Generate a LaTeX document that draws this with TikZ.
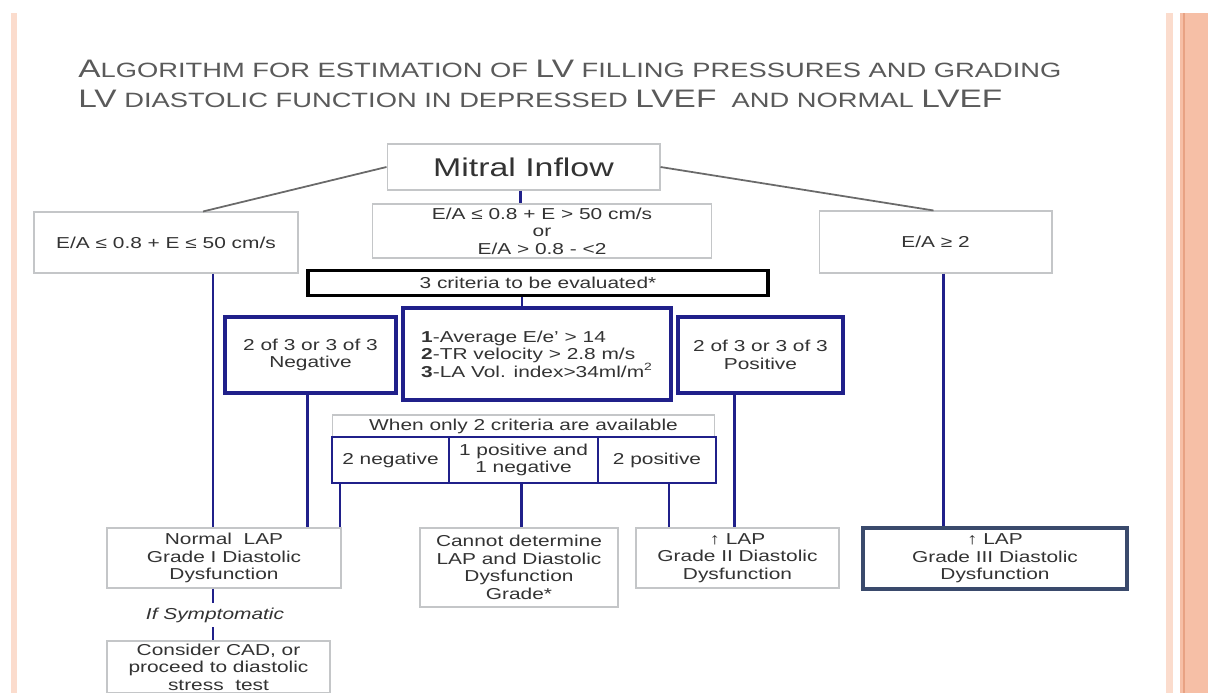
\documentclass[tikz,border=0pt]{standalone}
\usepackage{fontspec}
\setmainfont{Liberation Sans}[FakeStretch=1.32]
\usepackage{tikz}
\usetikzlibrary{positioning,calc}
\definecolor{navyline}{HTML}{20208A}
\definecolor{boxgray}{HTML}{C4C6C8}
\definecolor{textgray}{HTML}{333333}
\definecolor{titlegray}{HTML}{5A5A5A}
\definecolor{spokegray}{HTML}{6A6A6A}
\definecolor{slateblue}{HTML}{3A4A6C}
\definecolor{salmon}{HTML}{F6BFA6}
\definecolor{salmonlight}{HTML}{FBDCCD}
\definecolor{salmondark}{HTML}{E8A283}
\newcommand\tcap[1]{{\fontsize{14.4}{16}\selectfont #1}}

\begin{document}
\begin{tikzpicture}[x=0.02cm,y=-0.02cm,
  every node/.style={align=center,font=\fontsize{9}{10}\selectfont,text=textgray,inner sep=0pt},
  greybox/.style={draw=boxgray,line width=0.6pt,fill=white},
  bluebox/.style={draw=navyline,line width=2pt,fill=white},
  link/.style={draw=navyline,line width=1.2pt},
  spoke/.style={draw=spokegray,line width=1pt}]
  \useasboundingbox (0,0) rectangle (1208,693);
  \clip (0,0) rectangle (1208,693);
  \fill[white] (0,0) rectangle (1208,693);
  \fill[salmonlight] (11,13) rectangle (17,693);
  \fill[salmonlight] (1166,13) rectangle (1173,693);
  \fill[salmon] (1180,13) rectangle (1208,693);
  \draw[salmondark,line width=0.8pt] (1184,13) -- (1184,693);

  \node[anchor=base west,text=titlegray,font=\fontsize{11.78}{13}\selectfont] (title1) at (78,77)
    {\tcap{A}LGORITHM FOR ESTIMATION OF \tcap{LV} FILLING PRESSURES AND GRADING};
  \node[anchor=base west,text=titlegray,font=\fontsize{11.78}{13}\selectfont] (title2) at (78,107)
    {\tcap{LV} DIASTOLIC FUNCTION IN DEPRESSED \tcap{LVEF}\ \ AND NORMAL \tcap{LVEF}};

  \node[greybox,minimum width=5.46cm,minimum height=0.92cm,font=\fontsize{14.6}{16}\selectfont] (mitral) at (523.5,167) {Mitral Inflow};
  \node[greybox,minimum width=5.28cm,minimum height=1.22cm] (eaLow) at (166,242.5) {E/A ≤ 0.8 + E ≤ 50 cm/s};
  \node[greybox,minimum width=6.8cm,minimum height=1.08cm] (eaMid) at (542,231) {E/A ≤ 0.8 + E > 50 cm/s\\or\\E/A > 0.8 - <2};
  \node[greybox,minimum width=4.66cm,minimum height=1.24cm] (eaHigh) at (935.5,242) {E/A ≥ 2};
  \node[draw=black,line width=2.2pt,fill=white,minimum width=9.2cm,minimum height=0.5cm] (criteria) at (538,283) {3 criteria to be evaluated*};

  \node[bluebox,minimum width=3.42cm,minimum height=1.52cm] (negBox) at (310.5,355) {2 of 3 or 3 of 3\\Negative};
  \node[bluebox,line width=2.4pt,minimum width=5.36cm,minimum height=1.84cm,align=left] (central) at (537,354)
    {\textbf{1}-Average E/e’ > 14\\\textbf{2}-TR velocity > 2.8 m/s\\\textbf{3}-LA Vol. index>34ml/m\textsuperscript{2}};
  \node[bluebox,minimum width=3.3cm,minimum height=1.52cm] (posBox) at (760.5,355) {2 of 3 or 3 of 3\\Positive};

  \node[greybox,minimum width=7.66cm,minimum height=0.44cm] (whenOnly) at (523.5,426) {When only 2 criteria are available};
  \node[bluebox,line width=1.6pt,minimum width=2.34cm,minimum height=0.92cm] (twoNeg) at (390.5,460) {2 negative};
  \node[bluebox,line width=1.6pt,minimum width=2.98cm,minimum height=0.92cm] (onePosNeg) at (523.5,460) {1 positive and\\1 negative};
  \node[bluebox,line width=1.6pt,minimum width=2.36cm,minimum height=0.92cm] (twoPos) at (657,460) {2 positive};

  \node[greybox,minimum width=4.68cm,minimum height=1.2cm] (gradeI) at (224,558) {Normal\ \ LAP\\Grade I Diastolic\\Dysfunction};
  \node[greybox,minimum width=3.96cm,minimum height=1.58cm] (cannot) at (519,567.5) {Cannot determine\\LAP and Diastolic\\Dysfunction\\Grade*};
  \node[greybox,minimum width=4.06cm,minimum height=1.2cm] (gradeII) at (737.5,558) {↑ LAP\\Grade II Diastolic\\Dysfunction};
  \node[draw=slateblue,line width=1.8pt,fill=white,minimum width=5.28cm,minimum height=1.22cm] (gradeIII) at (995,558.5) {↑ LAP\\Grade III Diastolic\\Dysfunction};
  \node[minimum height=0.48cm,font=\fontsize{9}{10}\selectfont\itshape] (symp) at (215,615) {If Symptomatic};
  \node[greybox,minimum width=4.46cm,minimum height=1.04cm] (consider) at (218.5,667) {Consider CAD, or\\proceed to diastolic\\stress\ \ test};

  \draw[spoke] (mitral.west) -- ([shift={(37,0)}]eaLow.north);
  \draw[spoke] (mitral.east) -- ([shift={(-2,0)}]eaHigh.north);
  \draw[link] ([shift={(-3,0)}]mitral.south) -- ([shift={(-3,0)}]mitral.south |- eaMid.north);
  \draw[link] ([shift={(-16,0)}]criteria.south) -- ([shift={(-16,0)}]criteria.south |- central.north);
  \draw[link] ([shift={(47,0)}]eaLow.south) -- ([shift={(47,0)}]eaLow.south |- gradeI.north);
  \draw[link] ([shift={(-3,0)}]negBox.south) -- ([shift={(-3,0)}]negBox.south |- gradeI.north);
  \draw[link] ([shift={(9,0)}]twoNeg.south west) -- ([shift={(9,0)}]twoNeg.south west |- gradeI.north);
  \draw[link] ([shift={(-2,0)}]onePosNeg.south) -- ([shift={(-2,0)}]onePosNeg.south |- cannot.north);
  \draw[link] ([shift={(12,0)}]twoPos.south) -- ([shift={(12,0)}]twoPos.south |- gradeII.north);
  \draw[link] ([shift={(-26,0)}]posBox.south) -- ([shift={(-26,0)}]posBox.south |- gradeII.north);
  \draw[link] ([shift={(8,0)}]eaHigh.south) -- ([shift={(8,0)}]eaHigh.south |- gradeIII.north);
  \draw[link] ([shift={(-11,0)}]gradeI.south) -- ([shift={(-11,0)}]gradeI.south |- symp.north);
  \draw[link] ([shift={(-2,0)}]symp.south) -- ([shift={(-2,0)}]symp.south |- consider.north);
\end{tikzpicture}
\end{document}
